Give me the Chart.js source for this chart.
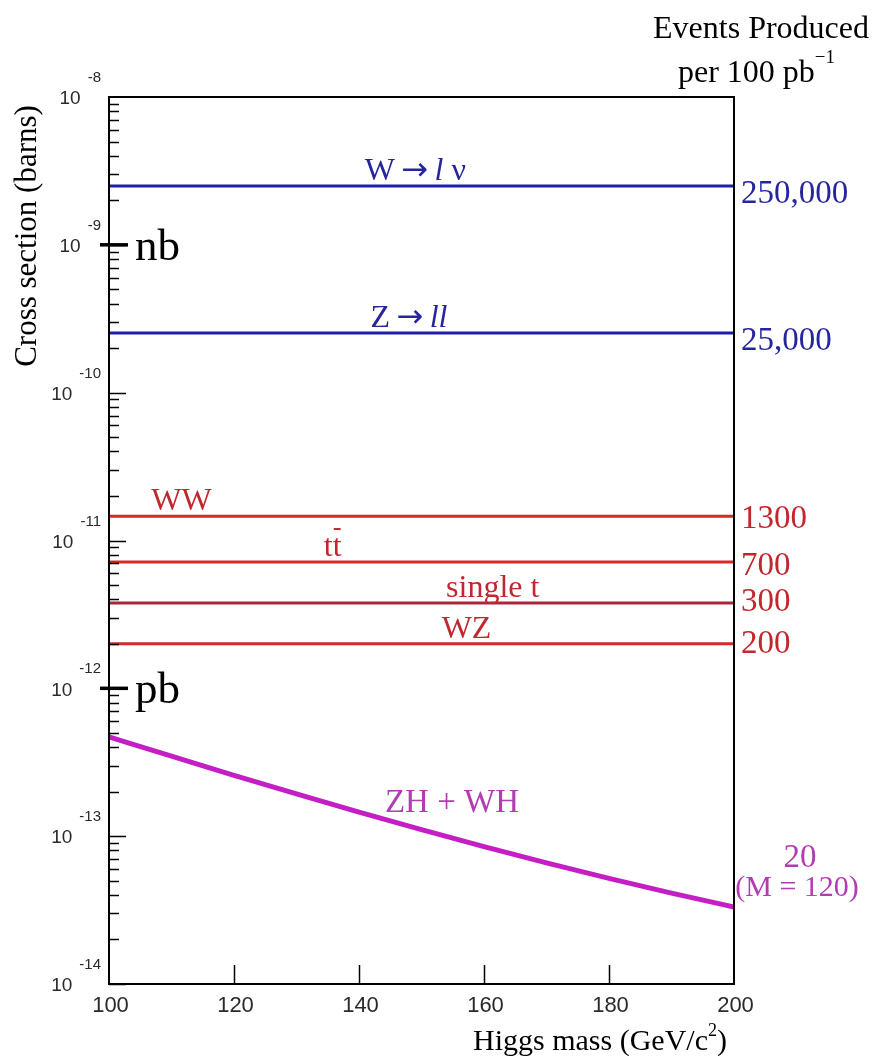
<!DOCTYPE html>
<html>
<head>
<meta charset="utf-8">
<script src="https://cdn.jsdelivr.net/npm/chart.js"></script>
<style>
    body { margin: 0; padding: 0; background: #fff; }
    canvas { display: block; }
</style>
</head>
<body>
<canvas id="xsecChart" width="872" height="1063"></canvas>
<script>
    // Higgs mass grid (GeV/c^2) and the ZH + WH cross section (barns)
    var higgsMass = [100, 110, 120, 130, 140, 150, 160, 170, 180, 190, 200];
    var zhwhXsec = [4.69e-13, 3.48e-13, 2.58e-13, 1.93e-13, 1.455e-13, 1.107e-13, 8.49e-14, 6.59e-14, 5.18e-14, 4.12e-14, 3.32e-14];
    var zhwhEvents = ["20", "(M = 120)"];

    // background processes, flat in Higgs mass
    var bgNames = ["W\u2192l\u03bd", "Z\u2192ll", "WW", "tt", "single t", "WZ"];
    var bgXsec = [2.5e-9, 2.53e-10, 1.46e-11, 7.15e-12, 3.78e-12, 2.0e-12];
    var bgEvents = ["250,000", "25,000", "1300", "700", "300", "200"];

    // axis ticks
    var massTicks = [100, 120, 140, 160, 180, 200];
    var decadeTicks = [-8, -9, -10, -11, -12, -13, -14];
    var unitMarks = [{ exp: -9, name: "nb" }, { exp: -12, name: "pb" }];

    // styling (not data)
    var SERIF = "'Liberation Serif', 'DejaVu Serif', serif";
    var SANS = "'Liberation Sans', 'DejaVu Sans', sans-serif";
    var blue = "#1e1ea8", blueText = "#26269c";
    var red = "#d62a2a", redDark = "#a8283a", redText = "#c2262e";
    var magenta = "#c41fc4", magentaText = "#b23cb2";
    var bgLineColors = [blue, blue, red, red, redDark, red];
    var bgTextColors = [blueText, blueText, redText, redText, redText, redText];
    var bgLabelMass = [149, 148, 111.6, 135.8, 161.4, 157.2];
    var bgEventDy = [8, 8, 3, 4, -1, 0];

    function drawRich(c, parts, x, y, align) {
        var w = 0;
        parts.forEach(function (p) { c.font = p.font; w += c.measureText(p.t).width; });
        var cx = align === "center" ? x - w / 2 : (align === "right" ? x - w : x);
        c.textAlign = "left";
        c.textBaseline = "alphabetic";
        parts.forEach(function (p) {
            c.font = p.font;
            c.fillText(p.t, cx, y + (p.dy || 0));
            cx += c.measureText(p.t).width;
        });
    }

    var framePlugin = {
        id: "frame",
        afterDraw: function (chart) {
            var c = chart.ctx, a = chart.chartArea;
            var xs = chart.scales.x, ys = chart.scales.y;
            c.save();

            // plot frame
            c.strokeStyle = "#000";
            c.lineWidth = 2;
            c.strokeRect(a.left, a.top, a.right - a.left, a.bottom - a.top);

            // y ticks, inward
            c.lineWidth = 1.5;
            for (var e = -14; e < -8; e++) {
                for (var m = 1; m < 10; m++) {
                    var py = Math.round(ys.getPixelForValue(m * Math.pow(10, e))) + 0.5;
                    var len = m === 1 ? 17 : 10;
                    c.beginPath();
                    c.moveTo(a.left, py);
                    c.lineTo(a.left + len, py);
                    c.stroke();
                }
            }

            // nb / pb marks
            c.lineWidth = 3.5;
            unitMarks.forEach(function (u) {
                var py = ys.getPixelForValue(Math.pow(10, u.exp));
                c.beginPath();
                c.moveTo(a.left - 9, py);
                c.lineTo(a.left + 19, py);
                c.stroke();
                c.fillStyle = "#000";
                c.font = "45px " + SERIF;
                c.textAlign = "left";
                c.textBaseline = "alphabetic";
                c.fillText(u.name, a.left + 26, py + 15);
            });

            // y tick labels 10^n
            c.fillStyle = "#2a2a2a";
            decadeTicks.forEach(function (e) {
                var py = ys.getPixelForValue(Math.pow(10, e));
                c.font = "15px " + SANS;
                var expT = "-" + (-e);
                var ew = c.measureText(expT).width;
                var ex = a.left - 8 - ew;
                c.textAlign = "left";
                c.textBaseline = "middle";
                c.fillText(expT, ex, py - 19);
                c.font = "19px " + SANS;
                c.textAlign = "right";
                c.fillText("10", ex - 7, py + 2);
            });

            // x ticks, inward
            c.strokeStyle = "#000";
            c.lineWidth = 1.5;
            massTicks.forEach(function (m) {
                var px = Math.round(xs.getPixelForValue(m)) + 0.5;
                if (m > xs.min && m < xs.max) {
                    c.beginPath();
                    c.moveTo(px, a.bottom);
                    c.lineTo(px, a.bottom - 19);
                    c.stroke();
                }
                c.font = "22px " + SANS;
                c.textAlign = "center";
                c.textBaseline = "middle";
                c.fillStyle = "#2a2a2a";
                c.fillText(String(m), px + 1, a.bottom + 22);
            });

            // axis titles
            c.fillStyle = "#000";
            drawRich(c, [
                { t: "Higgs mass (GeV/c", font: "30px " + SERIF },
                { t: "2", font: "18px " + SERIF, dy: -14 },
                { t: ")", font: "30px " + SERIF }
            ], 600, a.bottom + 66, "center");

            c.save();
            c.translate(36, 236);
            c.rotate(-Math.PI / 2);
            c.font = "31px " + SERIF;
            c.textAlign = "center";
            c.textBaseline = "alphabetic";
            c.fillText("Cross section (barns)", 0, 0);
            c.restore();

            // right-hand title
            c.font = "32px " + SERIF;
            c.textAlign = "right";
            c.textBaseline = "alphabetic";
            c.fillText("Events Produced", 869, 38);
            drawRich(c, [
                { t: "per 100 pb", font: "32px " + SERIF },
                { t: "\u22121", font: "19px " + SERIF, dy: -19 }
            ], 678, 82, "left");

            // background labels
            bgXsec.forEach(function (v, i) {
                var py = ys.getPixelForValue(v);
                var px = xs.getPixelForValue(bgLabelMass[i]);
                c.fillStyle = bgTextColors[i];
                var f = "32px " + SERIF, fi = "italic 32px " + SERIF;
                var fa = "32px 'DejaVu Sans', sans-serif";
                var parts;
                if (i === 0) {
                    parts = [{ t: "W\u2009", font: f }, { t: "\u2192", font: fa }, { t: "\u2009l", font: fi }, { t: " \u03bd", font: f }];
                } else if (i === 1) {
                    parts = [{ t: "Z\u2009", font: f }, { t: "\u2192", font: fa }, { t: "\u2009ll", font: fi }];
                } else {
                    parts = [{ t: bgNames[i], font: f }];
                }
                drawRich(c, parts, px, py - 6, "center");
                if (bgNames[i] === "tt") {
                    // anti-top bar over the second t
                    c.font = f;
                    var tw = c.measureText("t").width;
                    c.fillRect(px + 1, py - 34, tw - 2, 2);
                }
                // events on the right
                c.font = "33px " + SERIF;
                c.textAlign = "left";
                c.textBaseline = "middle";
                c.fillText(bgEvents[i], a.right + 7, py + bgEventDy[i]);
            });

            // signal labels
            c.fillStyle = magentaText;
            c.font = "33px " + SERIF;
            c.textAlign = "center";
            c.textBaseline = "alphabetic";
            c.fillText("ZH + WH", 452, 812);
            c.fillText(zhwhEvents[0], 800, 867);
            c.font = "30px " + SERIF;
            c.fillText(zhwhEvents[1], 797, 896);

            c.restore();
        }
    };

    var datasets = bgXsec.map(function (v, i) {
        return {
            label: bgNames[i],
            data: [{ x: higgsMass[0], y: v }, { x: higgsMass[higgsMass.length - 1], y: v }],
            borderColor: bgLineColors[i],
            borderWidth: 3,
            pointRadius: 0,
            fill: false
        };
    });
    datasets.push({
        label: "ZH + WH",
        data: higgsMass.map(function (m, i) { return { x: m, y: zhwhXsec[i] }; }),
        borderColor: magenta,
        borderWidth: 5,
        pointRadius: 0,
        fill: false,
        cubicInterpolationMode: "monotone"
    });

    var ctx = document.getElementById("xsecChart").getContext("2d");
    var xsecChart = new Chart(ctx, {
        type: "line",
        data: { datasets: datasets },
        options: {
            responsive: false,
            animation: false,
            devicePixelRatio: 1,
            layout: { padding: { left: 109, top: 97, right: 138, bottom: 79 } },
            plugins: { legend: { display: false }, tooltip: { enabled: false } },
            scales: {
                x: { type: "linear", min: 100, max: 200, display: false },
                y: { type: "logarithmic", min: 1e-14, max: 1e-8, display: false }
            }
        },
        plugins: [framePlugin]
    });
</script>
</body>
</html>
